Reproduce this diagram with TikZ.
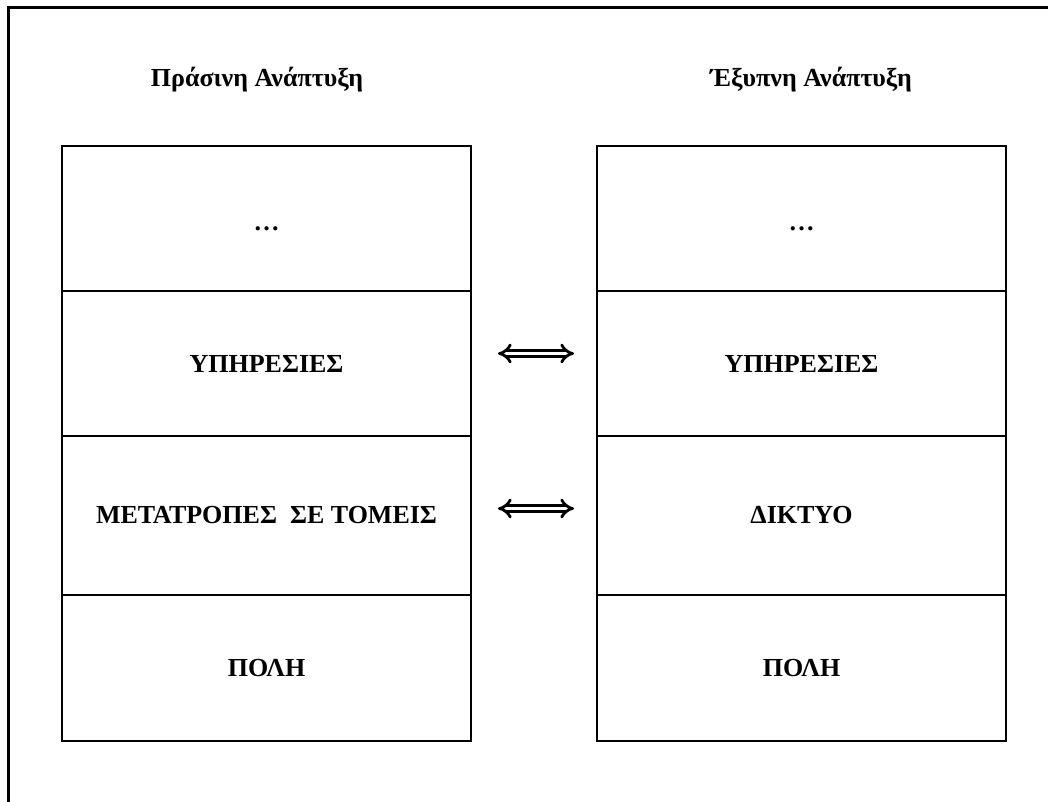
\documentclass[tikz,border=0pt]{standalone}
\usepackage{fontspec}
\setmainfont{Liberation Serif}
\usetikzlibrary{arrows.meta}
\usetikzlibrary{positioning}
\begin{document}
\begin{tikzpicture}[x=1pt,y=1pt]
\tikzset{cell/.style={rectangle,draw,line width=1.6pt,minimum width=409pt,minimum height=145pt,inner sep=0pt,outer sep=0pt,font=\bfseries\fontsize{26}{30}\selectfont}}
\tikzset{heading/.style={font=\bfseries\fontsize{26}{30}\selectfont}}
\tikzset{twoway/.style={line width=2.8pt,double distance=3.6pt,{Implies[scale=1.3]}-{Implies[scale=1.3]}}}
\clip (0,0) rectangle (1048,-801);
\draw[line width=3pt] (8,-7) rectangle (1070,-830);
\node[heading](gt) at (257,-80){Πράσινη Ανάπτυξη};
\node[heading](st) at (811,-80){Έξυπνη Ανάπτυξη};
\node[cell](g1) at (266.5,-218.5){\raisebox{-12pt}[0pt][0pt]{…}};
\node[cell,below=0pt of g1](g2){ΥΠΗΡΕΣΙΕΣ};
\node[cell,below=0pt of g2,minimum height=159pt](g3){ΜΕΤΑΤΡΟΠΕΣ\ \ ΣΕ ΤΟΜΕΙΣ};
\node[cell,below=0pt of g3,minimum height=146pt](g4){ΠΟΛΗ};
\node[cell](s1) at (801.5,-218.5){\raisebox{-12pt}[0pt][0pt]{…}};
\node[cell,below=0pt of s1](s2){ΥΠΗΡΕΣΙΕΣ};
\node[cell,below=0pt of s2,minimum height=159pt](s3){ΔΙΚΤΥΟ};
\node[cell,below=0pt of s3,minimum height=146pt](s4){ΠΟΛΗ};
\draw[twoway]([shift={(27pt,10pt)}]g2.east) -- ([shift={(-23pt,10pt)}]s2.west);
\draw[twoway]([shift={(27pt,7pt)}]g3.east) -- ([shift={(-23pt,7pt)}]s3.west);
\end{tikzpicture}
\end{document}
